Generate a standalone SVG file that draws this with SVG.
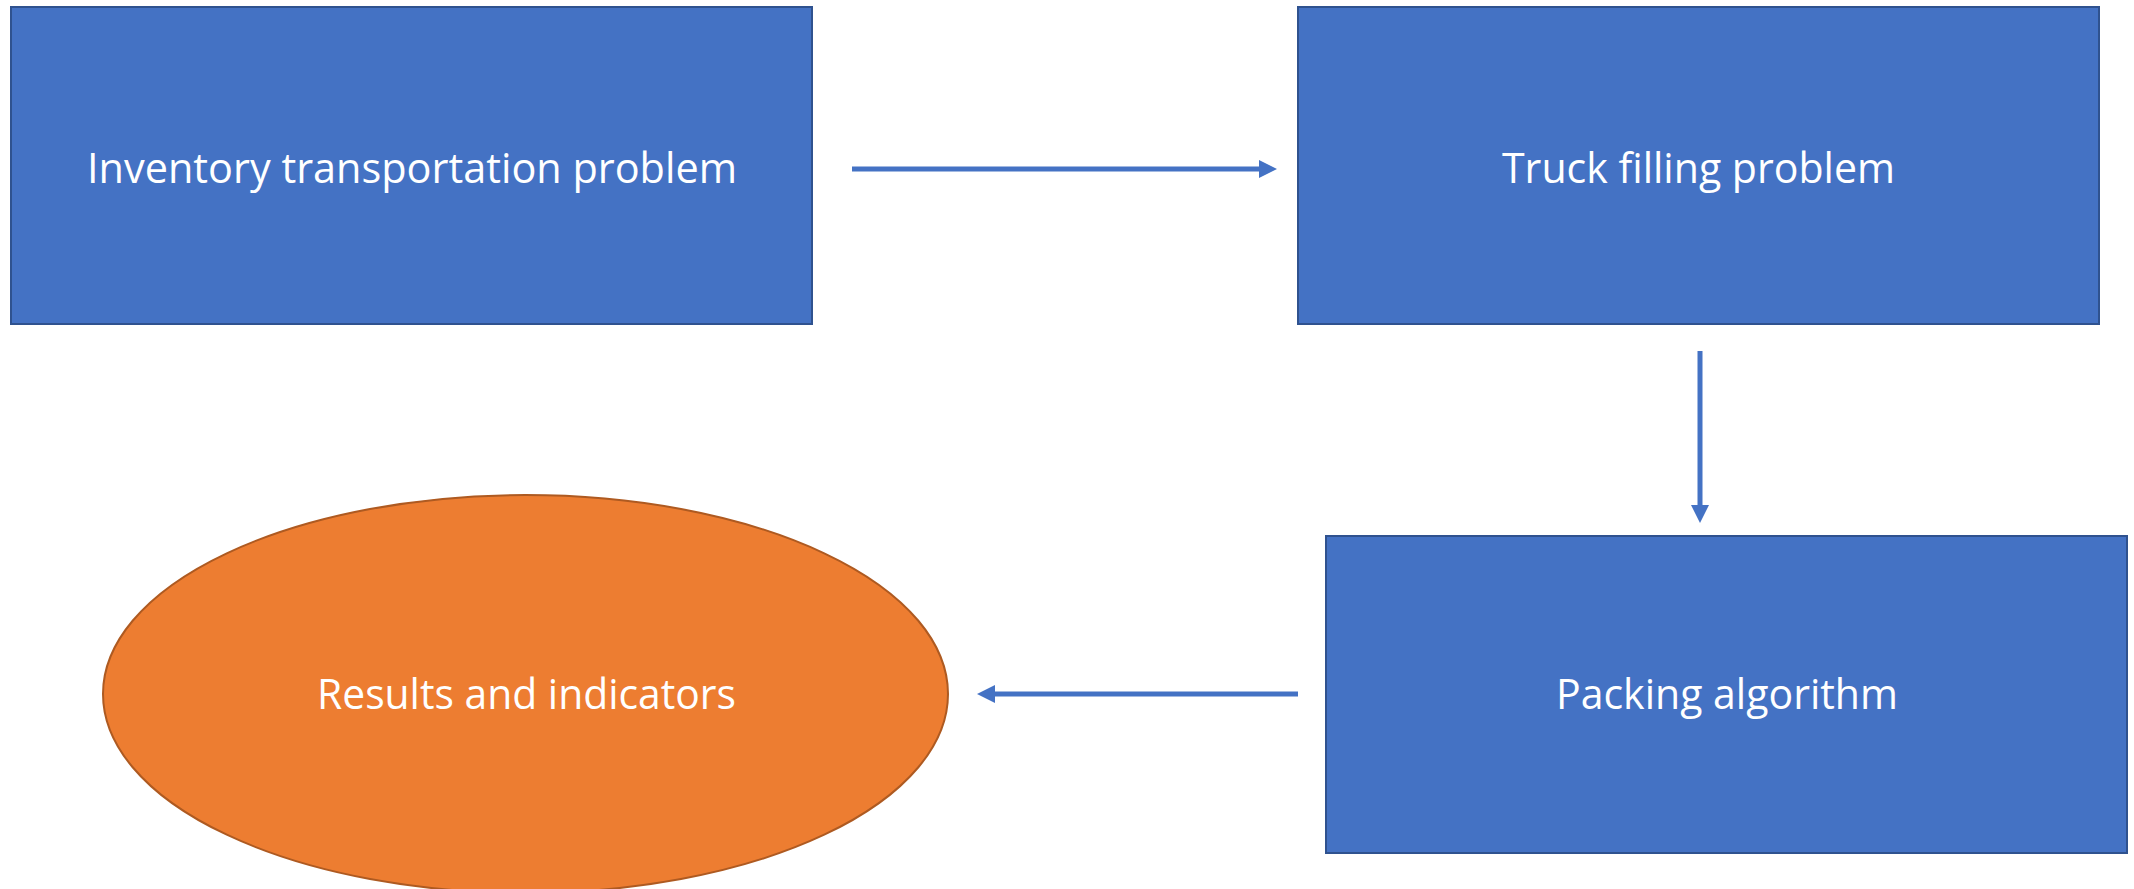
<svg xmlns="http://www.w3.org/2000/svg" width="2134" height="889" viewBox="0 0 2134 889">
  <style>
    .box { fill: #4472C4; stroke: #2F528F; stroke-width: 2; }
    .oval { fill: #ED7D31; stroke: #AE5A21; stroke-width: 2; }
    .lbl { font-family: "Open Sans", "Liberation Sans", sans-serif; font-size: 42px; fill: #FFFFFF; text-anchor: middle; }
    .conn { stroke: #4472C4; stroke-width: 5; fill: none; marker-end: url(#arrow); }
  </style>
  <defs>
    <marker id="arrow" markerUnits="userSpaceOnUse" markerWidth="20" markerHeight="20" refX="8" refY="9" orient="auto">
      <path d="M0,0 L18,9 L0,18 z" fill="#4472C4"/>
    </marker>
  </defs>
  <rect width="2134" height="889" fill="#FFFFFF"/>
  <g id="node-inventory">
    <rect class="box" x="11" y="7" width="801" height="317"/>
    <text class="lbl" x="412" y="183" textLength="650" lengthAdjust="spacingAndGlyphs">Inventory transportation problem</text>
  </g>
  <g id="node-truck">
    <rect class="box" x="1298" y="7" width="801" height="317"/>
    <text class="lbl" x="1698.5" y="183" textLength="393" lengthAdjust="spacingAndGlyphs">Truck filling problem</text>
  </g>
  <g id="node-packing">
    <rect class="box" x="1326" y="536" width="801" height="317"/>
    <text class="lbl" x="1727" y="709" textLength="342" lengthAdjust="spacingAndGlyphs">Packing algorithm</text>
  </g>
  <g id="node-results">
    <ellipse class="oval" cx="525.5" cy="694" rx="422.5" ry="199"/>
    <text class="lbl" x="526.5" y="709" textLength="419" lengthAdjust="spacingAndGlyphs">Results and indicators</text>
  </g>
  <g id="connectors">
    <line class="conn" x1="852" y1="169" x2="1267" y2="169"/>
    <line class="conn" x1="1700" y1="351" x2="1700" y2="513"/>
    <line class="conn" x1="1298" y1="694" x2="987" y2="694"/>
  </g>
</svg>
